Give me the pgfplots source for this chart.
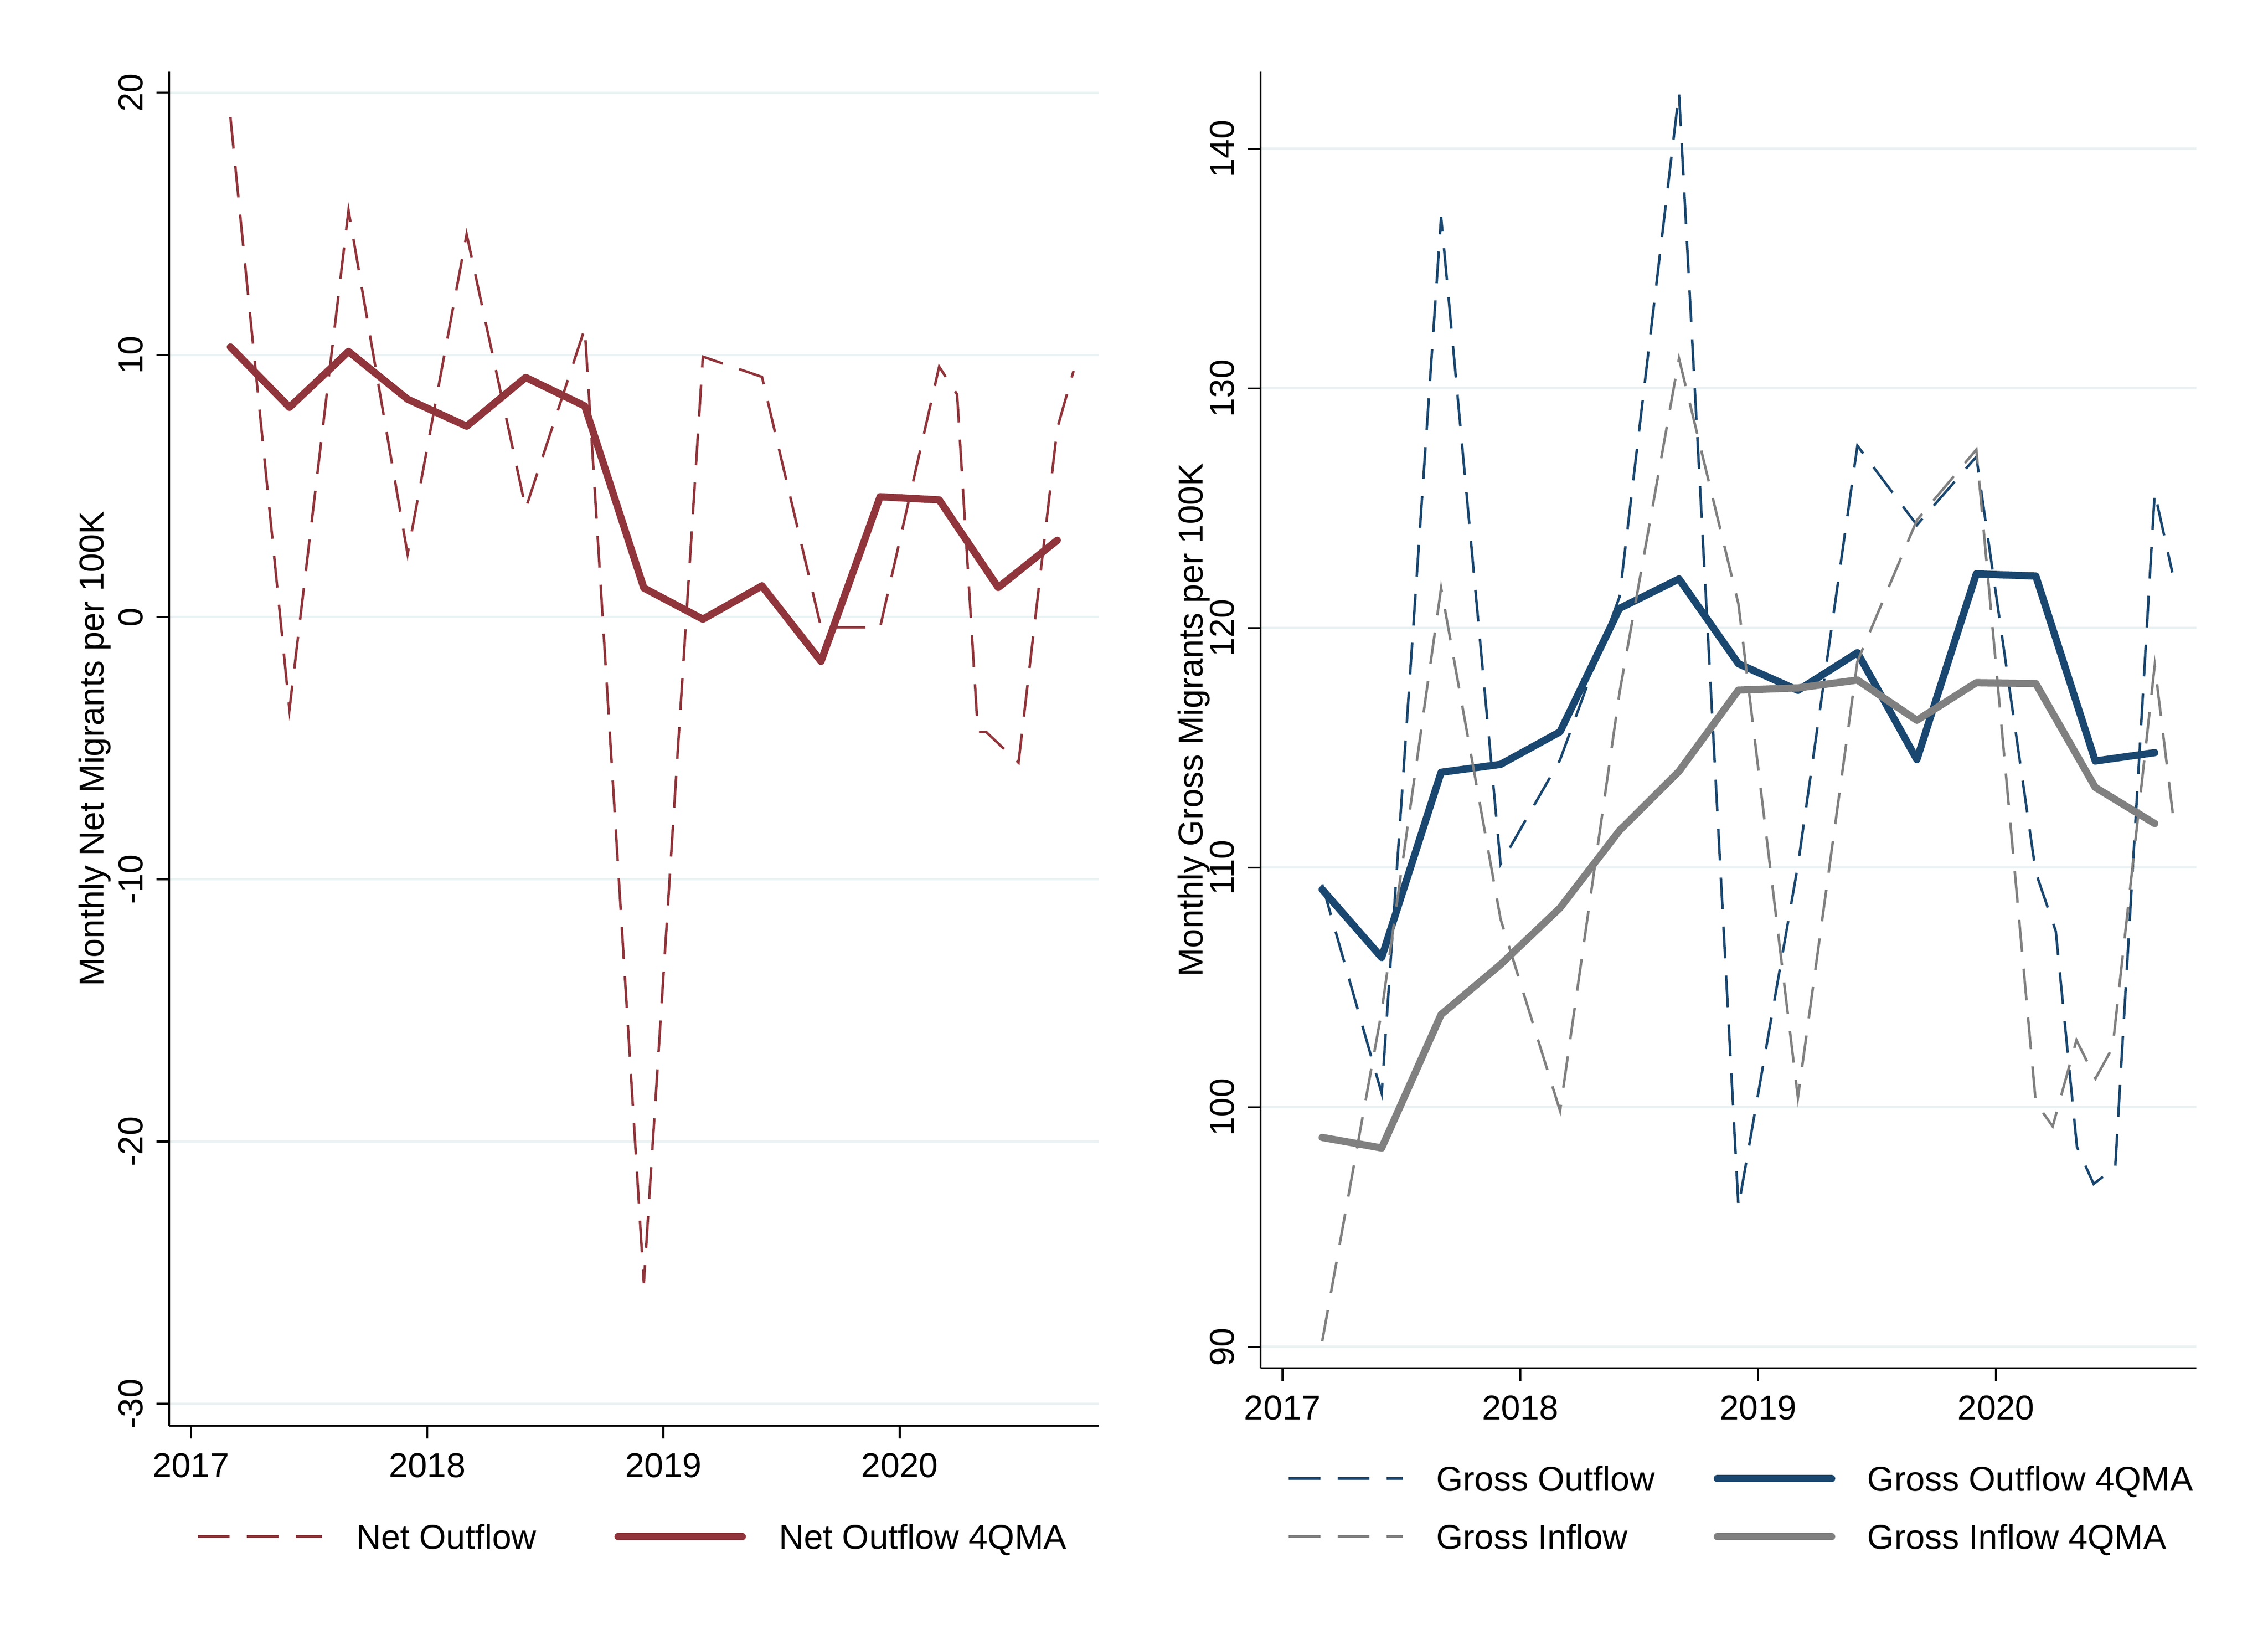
\documentclass[border=0pt]{standalone}
\usepackage{fontspec}
\setmainfont{Liberation Sans}
\usepackage{pgfplots}
\pgfplotsset{compat=1.18}
\definecolor{cranb}{RGB}{144,53,59}
\definecolor{navyc}{RGB}{26,71,111}
\definecolor{grayc}{RGB}{128,128,128}
\definecolor{gridc}{RGB}{234,242,243}
\pgfplotsset{
  mystyle/.style={
    scale only axis,
    axis x line*=bottom, axis y line*=left,
    axis line style={line width=0.45pt, black},
    tick align=outside,
    major tick length=2.8pt,
    tick style={line width=0.45pt, black},
    ymajorgrids,
    grid style={line width=0.5pt, gridc},
    xmin=2016.908, xmax=2020.842,
    xtick={2017,2018,2019,2020},
    xticklabels={2017,2018,2019,2020},
    xticklabel style={anchor=north, inner sep=0pt},
    yticklabel style={rotate=90, anchor=south, inner sep=0pt},
    xticklabel shift=3pt, yticklabel shift=2.8pt,
    legend columns=2,
    legend cell align=left,
  },
  dsh/.style={line width=0.55pt, dash pattern=on 7pt off 3.8pt},
  thk/.style={line width=1.6pt, line join=round, line cap=round},
}
\begin{document}
\fontsize{7.6}{9.1}\selectfont
\begin{tikzpicture}
\path[use as bounding box] (0,0) rectangle (500pt,363.6pt);
% ---------------- left panel ----------------
\begin{axis}[mystyle,
  at={(37.3pt,49.4pt)}, anchor=south west,
  width=204.9pt, height=298.4pt,
  ymin=-30.84, ymax=20.80,
  ytick={-30,-20,-10,0,10,20},
  yticklabels={-30,-20,-10,0,10,20},
  ylabel={Monthly Net Migrants per 100K},
  ylabel style={at={(axis description cs:-0.0800,0.5)}, anchor=center, inner sep=0pt},
  legend image code/.code={\draw[#1] (0pt,0pt) -- (27.4pt,0pt);},
  legend style={draw=none, fill=none, inner sep=0pt, outer sep=0pt,
    at={(axis description cs:0.0293,-0.0818)}, anchor=west,
    nodes={inner sep=0pt, text height=5.45pt, text depth=0pt},
    /tikz/every odd column/.append style={column sep=7.3pt},
    /tikz/every even column/.append style={column sep=17.2pt}},
]
\addplot[cranb, dsh] coordinates {
(2017.167,19.07) (2017.417,-3.53) (2017.667,15.51) (2017.917,2.40)
(2018.167,14.60) (2018.417,4.14) (2018.667,11.01) (2018.917,-25.40)
(2019.167,9.93) (2019.417,9.16) (2019.667,-0.39) (2019.917,-0.39)
(2020.167,9.55) (2020.243,8.49) (2020.331,-4.38) (2020.366,-4.38)
(2020.503,-5.55) (2020.667,7.20) (2020.736,9.39)};
\addlegendentry{Net Outflow}
\addplot[cranb, thk] coordinates {
(2017.167,10.30) (2017.417,8.00) (2017.667,10.13) (2017.917,8.31)
(2018.167,7.28) (2018.417,9.14) (2018.667,8.05) (2018.917,1.11)
(2019.167,-0.08) (2019.417,1.19) (2019.667,-1.69) (2019.917,4.59)
(2020.167,4.47) (2020.417,1.13) (2020.667,2.93)};
\addlegendentry{Net Outflow 4QMA}
\end{axis}
% ---------------- right panel ----------------
\begin{axis}[mystyle,
  at={(277.9pt,62.1pt)}, anchor=south west,
  width=206.3pt, height=285.7pt,
  ymin=89.11, ymax=143.22,
  ytick={90,100,110,120,130,140},
  yticklabels={90,100,110,120,130,140},
  ylabel={Monthly Gross Migrants per 100K},
  ylabel style={at={(axis description cs:-0.0715,0.5)}, anchor=center, inner sep=0pt},
  legend image code/.code={\draw[#1] (0pt,0pt) -- (25.2pt,0pt);},
  legend style={draw=none, fill=none, inner sep=0pt, outer sep=0pt,
    at={(axis description cs:0.0286,-0.1075)}, anchor=west,
    nodes={inner sep=0pt, text height=5.45pt, text depth=0pt},
    /tikz/every odd column/.append style={column sep=7.1pt},
    /tikz/every even column/.append style={column sep=13.0pt},
    /tikz/row sep=7.35pt},
]
\addplot[navyc, dsh] coordinates {
(2017.167,109.3) (2017.417,100.58) (2017.667,137.16) (2017.917,110.15)
(2018.167,114.5) (2018.417,121.3) (2018.667,142.34) (2018.917,95.84)
(2019.167,110.1) (2019.417,127.61) (2019.667,124.3) (2019.917,127.15)
(2020.167,109.8) (2020.251,107.35) (2020.340,98.35) (2020.410,96.8)
(2020.501,97.49) (2020.667,125.65) (2020.741,122.32)};
\addlegendentry{Gross Outflow}
\addplot[navyc, thk] coordinates {
(2017.167,109.09) (2017.417,106.25) (2017.667,113.98) (2017.917,114.31)
(2018.167,115.67) (2018.417,120.82) (2018.667,122.05) (2018.917,118.51)
(2019.167,117.40) (2019.417,118.97) (2019.667,114.51) (2019.917,122.26)
(2020.167,122.17) (2020.417,114.45) (2020.667,114.80)};
\addlegendentry{Gross Outflow 4QMA}
\addplot[grayc, dsh] coordinates {
(2017.167,90.23) (2017.417,104.0) (2017.667,121.67) (2017.917,107.85)
(2018.167,99.85) (2018.417,117.3) (2018.667,131.25) (2018.917,121.0)
(2019.167,100.4) (2019.417,118.6) (2019.667,124.5) (2019.917,127.45)
(2020.167,100.2) (2020.238,99.2) (2020.338,102.8) (2020.418,101.2)
(2020.490,102.5) (2020.667,118.45) (2020.745,112.09)};
\addlegendentry{Gross Inflow}
\addplot[grayc, thk] coordinates {
(2017.167,98.74) (2017.417,98.30) (2017.667,103.87) (2017.917,105.96)
(2018.167,108.32) (2018.417,111.55) (2018.667,114.02) (2018.917,117.41)
(2019.167,117.50) (2019.417,117.83) (2019.667,116.15) (2019.917,117.72)
(2020.167,117.68) (2020.417,113.35) (2020.667,111.84)};
\addlegendentry{Gross Inflow 4QMA}
\end{axis}
\end{tikzpicture}
\end{document}
